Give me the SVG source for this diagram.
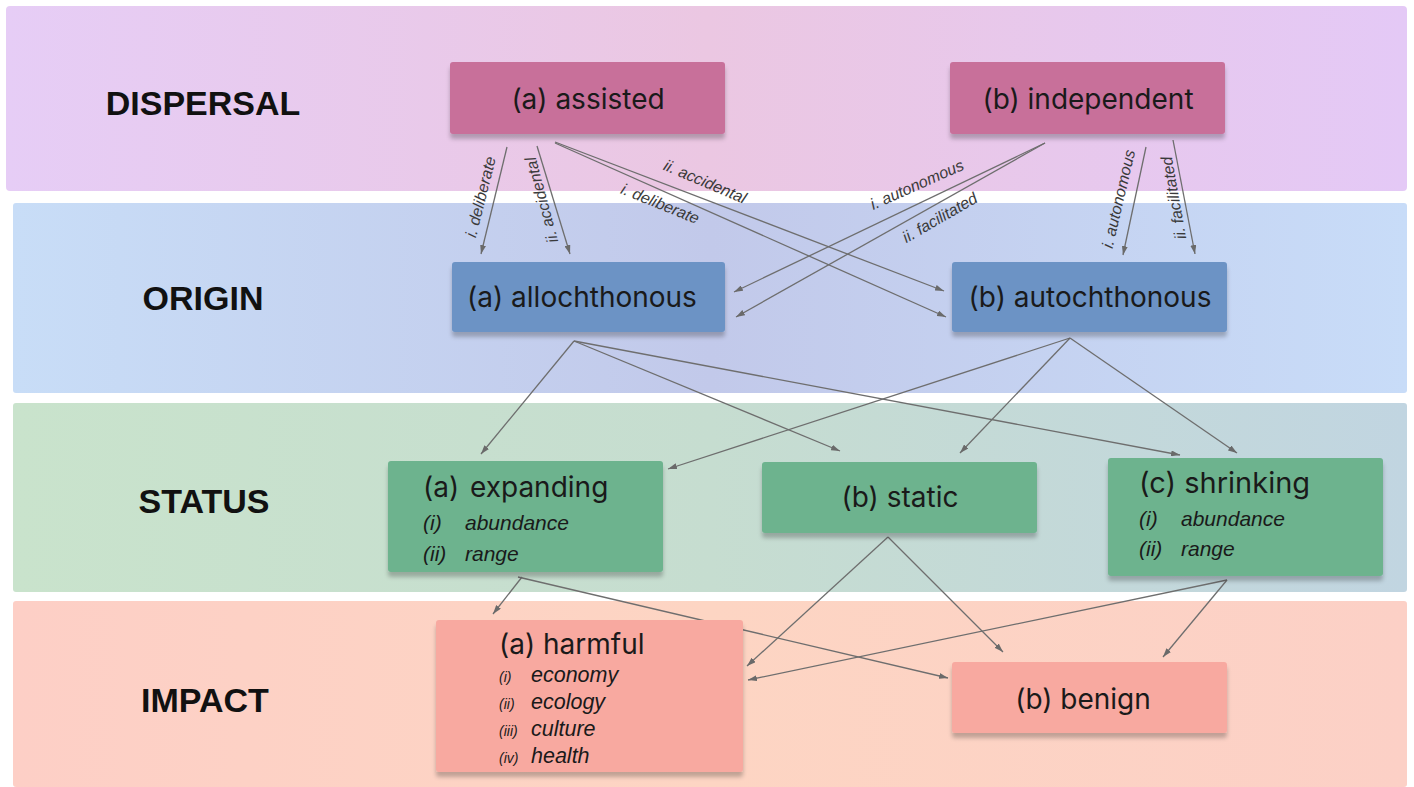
<svg xmlns="http://www.w3.org/2000/svg" width="1414" height="787" viewBox="0 0 1414 787">
<defs>
<linearGradient id="gDisp" x1="0" y1="0" x2="1" y2="0">
<stop offset="0" stop-color="#e6cdf6"/><stop offset="0.5" stop-color="#ebc7e2"/><stop offset="1" stop-color="#e4c9f6"/>
</linearGradient>
<linearGradient id="gOrig" x1="0" y1="0" x2="1" y2="0">
<stop offset="0" stop-color="#c8ddf7"/><stop offset="0.5" stop-color="#c2c9ea"/><stop offset="1" stop-color="#c8dcf8"/>
</linearGradient>
<linearGradient id="gStat" x1="0" y1="0" x2="1" y2="0">
<stop offset="0" stop-color="#c9e3cc"/><stop offset="0.5" stop-color="#c6ddd0"/><stop offset="1" stop-color="#c1d5e1"/>
</linearGradient>
<linearGradient id="gImp" x1="0" y1="0" x2="1" y2="0">
<stop offset="0" stop-color="#fdcfc6"/><stop offset="0.5" stop-color="#fdd5c3"/><stop offset="1" stop-color="#fcd0c6"/>
</linearGradient>
<filter id="sh" x="-5%" y="-10%" width="110%" height="130%">
<feDropShadow dx="0" dy="5" stdDeviation="2" flood-color="#000" flood-opacity="0.24"/>
</filter>
<marker id="ah" viewBox="0 0 9 6" refX="9" refY="3" markerWidth="9" markerHeight="6" markerUnits="userSpaceOnUse" orient="auto">
<path d="M0,0 L9,3 L0,6 z" fill="#6a6a6a"/>
</marker>
<style>
.band-label{font-family:"Liberation Sans",Arial,sans-serif;font-weight:bold;font-size:34px;fill:#111;text-anchor:middle}
.nt{font-family:Inter,"Liberation Sans",sans-serif;font-size:28px;fill:#1a1a1a}
.ntc{font-family:Inter,"Liberation Sans",sans-serif;font-size:28px;fill:#1a1a1a;text-anchor:middle}
.it{font-family:"Liberation Sans",Arial,sans-serif;font-style:italic;font-size:21px;fill:#1a1a1a}
.its{font-family:"Liberation Sans",Arial,sans-serif;font-style:italic;font-size:14px;fill:#1a1a1a}
.itb{font-family:"Liberation Sans",Arial,sans-serif;font-style:italic;font-size:21.5px;fill:#1a1a1a}
.cl{font-family:"Liberation Sans",Arial,sans-serif;font-style:italic;font-size:16px;fill:#3a3a3a;text-anchor:middle}
.pink{fill:#c8709a}
.blue{fill:#6c93c5}
.green{fill:#6db38e}
.salmon{fill:#f8a9a0}
.conn line{stroke:#6e6e6e;stroke-width:1.3;marker-end:url(#ah)}
</style>
</defs>
<rect width="1414" height="787" fill="#ffffff"/>
<g id="bands">
<rect x="6" y="6" width="1401" height="185" rx="4" fill="url(#gDisp)"/>
<rect x="13" y="203" width="1394" height="190" rx="3" fill="url(#gOrig)"/>
<rect x="13" y="403" width="1394" height="189" rx="3" fill="url(#gStat)"/>
<rect x="13" y="601" width="1394" height="186" rx="3" fill="url(#gImp)"/>
<text class="band-label" x="203" y="115">DISPERSAL</text>
<text class="band-label" x="203" y="310">ORIGIN</text>
<text class="band-label" x="204" y="513">STATUS</text>
<text class="band-label" x="205" y="712">IMPACT</text>
</g>
<g id="connectors" class="conn">
<line x1="507" y1="147" x2="481" y2="254"/>
<line x1="537" y1="146" x2="570" y2="254"/>
<line x1="555" y1="142" x2="944" y2="291"/>
<line x1="555" y1="143" x2="946" y2="317"/>
<line x1="1045" y1="143" x2="734" y2="292"/>
<line x1="1045" y1="143" x2="736" y2="317"/>
<line x1="1146" y1="147" x2="1123" y2="255"/>
<line x1="1173" y1="140" x2="1195" y2="254"/>
<line x1="574" y1="341" x2="481" y2="454"/>
<line x1="574" y1="341" x2="840" y2="451"/>
<line x1="574" y1="341" x2="1180" y2="455"/>
<line x1="1070" y1="338" x2="668" y2="469"/>
<line x1="1070" y1="338" x2="960" y2="453"/>
<line x1="1070" y1="338" x2="1237" y2="453"/>
<line x1="522" y1="577" x2="493" y2="614"/>
<line x1="518" y1="577" x2="948" y2="678"/>
<line x1="888" y1="537" x2="747" y2="666"/>
<line x1="888" y1="537" x2="1003" y2="652"/>
<line x1="1227" y1="580" x2="748" y2="680"/>
<line x1="1227" y1="580" x2="1163" y2="657"/>
<text class="cl" transform="translate(481,197) rotate(-76)" y="5">i. deliberate</text>
<text class="cl" transform="translate(542,200) rotate(-105)" y="5">ii. accidental</text>
<text class="cl" transform="translate(705,182) rotate(23)" y="5">ii. accidental</text>
<text class="cl" transform="translate(660,204) rotate(22)" y="5">i. deliberate</text>
<text class="cl" transform="translate(917,185) rotate(-24)" y="5">i. autonomous</text>
<text class="cl" transform="translate(940,218) rotate(-30)" y="5">ii. facilitated</text>
<text class="cl" transform="translate(1119,199) rotate(-77)" y="5">i. autonomous</text>
<text class="cl" transform="translate(1174,198) rotate(-100)" y="5">ii. facilitated</text>
</g>
<g id="node-assisted">
<rect class="pink" x="450" y="62" width="275" height="72" rx="3" filter="url(#sh)"/>
<text class="ntc" x="588" y="109">(a) assisted</text>
</g>
<g id="node-independent">
<rect class="pink" x="950" y="62" width="275" height="72" rx="3" filter="url(#sh)"/>
<text class="ntc" x="1088" y="109">(b) independent</text>
</g>
<g id="node-allochthonous">
<rect class="blue" x="452" y="262" width="273" height="70" rx="3" filter="url(#sh)"/>
<text class="ntc" x="582" y="307">(a) allochthonous</text>
</g>
<g id="node-autochthonous">
<rect class="blue" x="952" y="262" width="275" height="70" rx="3" filter="url(#sh)"/>
<text class="ntc" x="1090" y="307">(b) autochthonous</text>
</g>
<g id="node-expanding">
<rect class="green" x="388" y="461" width="275" height="111" rx="3" filter="url(#sh)"/>
<text class="nt" x="423" y="497">(a)<tspan x="470">expanding</tspan></text>
<text class="it" x="423" y="530">(i)<tspan x="465">abundance</tspan></text>
<text class="it" x="423" y="561">(ii)<tspan x="465">range</tspan></text>
</g>
<g id="node-static">
<rect class="green" x="762" y="462" width="275" height="71" rx="3" filter="url(#sh)"/>
<text class="ntc" x="900" y="507">(b) static</text>
</g>
<g id="node-shrinking">
<rect class="green" x="1108" y="458" width="275" height="118" rx="3" filter="url(#sh)"/>
<text class="nt" x="1139" y="493" style="font-size:29px">(c) shrinking</text>
<text class="it" x="1139" y="526">(i)<tspan x="1181">abundance</tspan></text>
<text class="it" x="1139" y="556">(ii)<tspan x="1181">range</tspan></text>
</g>
<g id="node-harmful">
<rect class="salmon" x="436" y="620" width="307" height="152" rx="3" filter="url(#sh)"/>
<text class="nt" x="499" y="654">(a) harmful</text>
<text class="itb" x="499" y="682"><tspan class="its">(i)</tspan><tspan x="531">economy</tspan></text>
<text class="itb" x="499" y="709"><tspan class="its">(ii)</tspan><tspan x="531">ecology</tspan></text>
<text class="itb" x="499" y="736"><tspan class="its">(iii)</tspan><tspan x="531">culture</tspan></text>
<text class="itb" x="499" y="763"><tspan class="its">(iv)</tspan><tspan x="531">health</tspan></text>
</g>
<g id="node-benign">
<rect class="salmon" x="952" y="662" width="275" height="71" rx="3" filter="url(#sh)"/>
<text class="ntc" x="1083" y="709">(b) benign</text>
</g>
</svg>
